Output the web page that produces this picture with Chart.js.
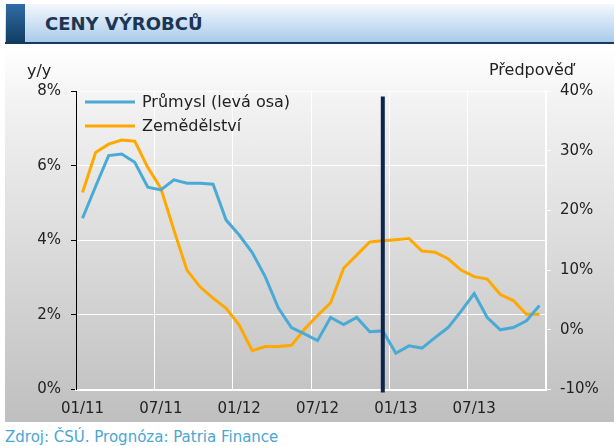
<!DOCTYPE html>
<html>
<head>
<meta charset="utf-8">
<script src="https://cdn.jsdelivr.net/npm/chart.js@4"></script>
<style>
    body { margin: 0; width: 614px; height: 446px; background: #fff; position: relative; overflow: hidden; font-family: 'DejaVu Sans', Verdana, sans-serif; }
    #header { position: absolute; left: 5px; top: 4px; width: 609px; height: 38px; background: linear-gradient(to bottom, #f4f8fd, #a9cbeb); border-bottom: 2px solid #163a5e; }
    #header .block { position: absolute; left: 1px; top: 0; width: 19px; height: 38px; background: linear-gradient(to bottom, #2f6da6, #123d63); }
    #header .title { position: absolute; left: 40px; top: 9px; font-weight: bold; font-size: 18px; color: #1c3553; white-space: nowrap; }
    #panel { position: absolute; left: 5px; top: 48px; width: 609px; height: 374px; background: linear-gradient(to bottom, #ffffff 0%, #f2f2f2 15%, #bfbfbf 100%); }
    #chartBox { position: absolute; left: 5px; top: 55px; width: 609px; height: 367px; }
    .axisNote { position: absolute; font-size: 16px; color: #222; white-space: nowrap; }
    #source { position: absolute; left: 5px; top: 428px; font-size: 15px; color: #4aa6d4; white-space: nowrap; }
</style>
</head>
<body>
<div id="header"><div class="block"></div><div class="title">CENY VÝROBCŮ</div></div>
<div id="panel"></div>
<div id="chartBox"><canvas id="priceChart"></canvas></div>
<div class="axisNote" style="left:27px; top:61px;">y/y</div>
<div class="axisNote" style="left:489px; top:60px;">Předpověď</div>
<div id="source">Zdroj: ČSÚ. Prognóza: Patria Finance</div>

<script>
// Monthly categories 01/11 - 12/13
const months = [
    '01/11', '02/11', '03/11', '04/11', '05/11', '06/11', '07/11', '08/11', '09/11', '10/11', '11/11', '12/11',
    '01/12', '02/12', '03/12', '04/12', '05/12', '06/12', '07/12', '08/12', '09/12', '10/12', '11/12', '12/12',
    '01/13', '02/13', '03/13', '04/13', '05/13', '06/13', '07/13', '08/13', '09/13', '10/13', '11/13', '12/13'
];

// Industrial producer prices, y/y % (left axis)
const industry = [
    4.59, 5.44, 6.27, 6.31, 6.09, 5.42, 5.35, 5.62, 5.53, 5.53, 5.50, 4.54,
    4.14, 3.67, 3.02, 2.18, 1.66, 1.49, 1.31, 1.93, 1.74, 1.93, 1.55, 1.57,
    0.97, 1.17, 1.11, 1.39, 1.66, 2.10, 2.57, 1.93, 1.60, 1.66, 1.84, 2.25
];

// Agricultural producer prices, y/y % (right axis)
const agriculture = [
    23.0, 29.7, 31.1, 31.8, 31.6, 27.2, 23.7, 16.7, 10.0, 7.2, 5.3, 3.6,
    0.8, -3.5, -2.8, -2.8, -2.6, 0.1, 2.4, 4.5, 10.3, 12.5, 14.7, 14.9,
    15.1, 15.3, 13.2, 13.0, 11.9, 10.0, 8.9, 8.5, 5.9, 4.9, 2.6, 2.6
];

// Forecast starts here
const forecastStart = '12/12';

const colors = {
    industry: '#4aaad6',
    agriculture: '#ffa800',
    forecast: '#0d2650',
    text: '#222222',
    grid: '#ffffff'
};

Chart.defaults.font.family = "'DejaVu Sans', Verdana, sans-serif";
Chart.defaults.color = colors.text;

// Vertical forecast marker
const forecastLine = {
    id: 'forecastLine',
    afterDatasetsDraw(chart) {
        const x = chart.scales.x.getPixelForValue(months.indexOf(forecastStart));
        const top = chart.scales.y.getPixelForValue(7.85);
        const ctx = chart.ctx;
        ctx.save();
        ctx.strokeStyle = colors.forecast;
        ctx.lineWidth = 4;
        ctx.beginPath();
        ctx.moveTo(x, top);
        ctx.lineTo(x, chart.chartArea.bottom + 3);
        ctx.stroke();
        ctx.restore();
    }
};

// Legend in the top left corner of the plot
const cornerLegend = {
    id: 'cornerLegend',
    afterDraw(chart) {
        const ctx = chart.ctx;
        const area = chart.chartArea;
        ctx.save();
        ctx.font = "16px 'DejaVu Sans', Verdana, sans-serif";
        ctx.textBaseline = 'middle';
        chart.data.datasets.forEach(function(ds, i) {
            const y = area.top + 11 + i * 24;
            ctx.strokeStyle = ds.borderColor;
            ctx.lineWidth = 3;
            ctx.beginPath();
            ctx.moveTo(area.left + 9, y);
            ctx.lineTo(area.left + 59, y);
            ctx.stroke();
            ctx.fillStyle = colors.text;
            ctx.fillText(ds.label, area.left + 66, y + 1);
        });
        ctx.restore();
    }
};

const ctx = document.getElementById('priceChart').getContext('2d');
new Chart(ctx, {
    type: 'line',
    data: {
        labels: months,
        datasets: [
            {
                label: 'Průmysl (levá osa)',
                data: industry,
                borderColor: colors.industry,
                borderWidth: 3,
                pointRadius: 0,
                tension: 0,
                yAxisID: 'y'
            },
            {
                label: 'Zemědělství',
                data: agriculture,
                borderColor: colors.agriculture,
                borderWidth: 3,
                pointRadius: 0,
                tension: 0,
                yAxisID: 'y1'
            }
        ]
    },
    options: {
        responsive: true,
        maintainAspectRatio: false,
        animation: false,
        devicePixelRatio: 1,
        layout: { padding: { top: 36 } },
        plugins: {
            legend: { display: false },
            tooltip: { enabled: false }
        },
        scales: {
            x: {
                offset: true,
                grid: {
                    offset: true,
                    drawTicks: false,
                    color: function(c) {
                        return (c.index > 0 && c.index % 6 === 0) ? colors.grid : 'rgba(0,0,0,0)';
                    }
                },
                border: { color: colors.grid, width: 2 },
                ticks: {
                    autoSkip: false,
                    maxRotation: 0,
                    padding: 11,
                    font: { size: 15 },
                    callback: function(value, index) {
                        return index % 6 === 0 ? months[index] : '';
                    }
                },
                afterFit: function(scale) { scale.height = 32.5; }
            },
            y: {
                position: 'left',
                min: 0,
                max: 8,
                grid: { color: colors.grid, tickColor: '#000', tickLength: 5 },
                border: { color: '#000', width: 1 },
                ticks: {
                    stepSize: 2,
                    padding: 10,
                    font: { size: 15 },
                    callback: function(v) { return v + '%'; }
                },
                afterFit: function(scale) { scale.width = 71; }
            },
            y1: {
                position: 'right',
                min: -10,
                max: 40,
                grid: { drawOnChartArea: false, tickColor: colors.grid, tickLength: 5 },
                border: { color: colors.grid, width: 2 },
                ticks: {
                    stepSize: 10,
                    padding: 9,
                    font: { size: 15 },
                    callback: function(v) { return v + '%'; }
                },
                afterFit: function(scale) { scale.width = 68; }
            }
        }
    },
    plugins: [forecastLine, cornerLegend]
});

console.log('Chart initialized');
</script>
</body>
</html>
